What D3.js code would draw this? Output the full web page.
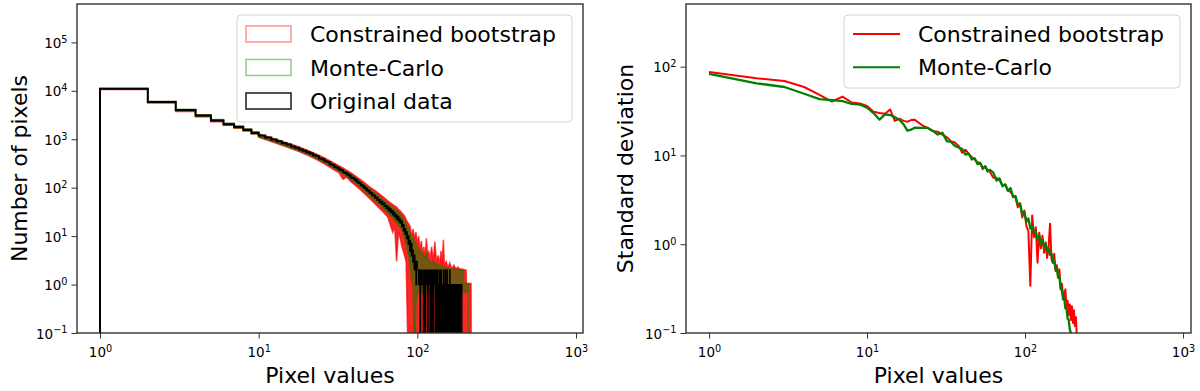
<!DOCTYPE html>
<html>
<head>
<meta charset="utf-8">
<script src="https://cdn.jsdelivr.net/npm/d3@7"></script>
<style>
  body { margin: 0; background: #fff; }
  text { font-family: "DejaVu Sans", sans-serif; fill: #000; }
</style>
</head>
<body>
<div id="container"></div>
<script>
var width = 1200, height = 391;

// ---- left panel: histogram of pixel values, unit bins starting at 1 ----
var histNames = ["Constrained bootstrap", "Monte-Carlo", "Original data"];
var binFirstEdge = 1, binLastEdge = 800, tailStart = 96;
// counts for the bins [1,2), [2,3), ... [200,201); everything after is 0
var origCounts = [
  11000,5900,4000,3100,2450,2050,1780,1560,1350,1200,
  1090,985,905,825,775,712,668,618,580,536,
  508,466,446,402,388,352,338,306,294,268,
  258,238,230,208,202,188,178,163,158,147,
  141,128,125,114,109,101,96,89,86,79,
  77,70,69,62,63,56,56,50,51,46,
  47,42,42,38,39,34,36,31,33,28,
  30,26,27,23,25,21,22,19,20,16,
  17,13,14,11,12,9,10,7,8,5,
  7,4,5,3,4,2,3,1,3,2,
  2,1,2,0,2,1,2,2,0,1,
  2,0,1,2,1,0,2,1,2,0,
  1,2,0,1,2,0,1,2,1,0,
  2,1,0,2,1,0,1,2,0,1,
  2,0,1,1,0,2,1,0,1,2,
  0,1,0,2,1,0,1,0,1,2,
  0,1,0,1,1,0,1,0,1,0,
  1,0,1,0,0,1,0,1,0,1,
  0,0,1,0,1,0,0,1,0,1,
  0,0,0,0,0,0,0,0,0,0
];

// spread of the realisations over the first bins (edges 1..10)
var stepEdges   = [1,2,3,4,5,6,7,8,9,10];
var stepRedLo   = [10700,5600,3750,2900,2300,1950,1680,1480,1280];
var stepRedHi   = [11200,6000,4050,3150,2500,2120,1850,1630,1420];
var stepGreenLo = [10800,5750,3850,2950,2350,1970,1700,1490,1290];
var stepGreenHi = [11200,6050,4150,3200,2550,2150,1870,1650,1430];

// spread of the realisations from 10 on (min / max of all runs)
var bandV = [10,12,14,16,18,20,23,26,30,32,34,36,38,42,46,50,55,60,65,70,72,74,76,78,80,83,85,
  88,90,92,94,96,98,100,102,104,106,108,110,112,114,116,118,120,123,126,129,132,135,138,141,143,
  146,148,152,156,160,165,170,175,180,185,190,195,196,200,203,204,210,211,218,219];
var bandRedLo = [1100,900,750,640,555,480,385,310,232,205,150,165,135,102,78,60,44,33,25,12,16,3,12,9,6,4,3,
  0,0,0,0,0,0,0,0,0,0,0,0,0,0,0,0,0,0,0,0,0,0,0,0,0,
  0,0,0,0,0,0,0,0,0,0,0,0,0,0,0,0,0,0,0,0];
var bandRedHi = [1290,1070,910,790,690,605,500,410,320,285,255,228,205,162,130,104,84,67,54,45,42,40,36,33,30,26,22,
  18,16,10,14,9,12,7,10,5,8,4,6,3.5,9,4,5,3,6,3,7.7,3,4,2.6,5,2.5,
  8.4,2.5,3,2.2,2.8,2.1,2.5,2.1,2.3,2.1,2.1,2.05,2.05,2,2,1.05,1.05,1.05,1.05,0];
var bandGreenLo = [1130,930,780,670,580,505,410,330,250,222,192,172,150,115,89,69,52,40,30,24,21,19,17,15,13,9,7,
  4,2.5,1.2,1,0,0.4,0.7,0.7,0.7,0.7,0.7,0.7,0.7,0.7,0.7,0.7,0.7,0.7,0.7,0.7,0.7,0.7,0.7,0.7,0.7,
  0.7,0.7,0.7,0.7,0.7,0.7,0.7,0.7,0.7,0.7,0.7,0.7,0.7,0.7,0.7,0.7,0.7,0,0,0];
var bandGreenHi = [1270,1050,880,760,665,580,475,385,300,268,236,212,188,148,117,93,74,58,47,39,36,34,32,28,25,21,17,
  14,12,10,9,8,7,6,5.5,5,4.6,4.2,3.8,3.5,4.8,3.5,3.2,3,3,3,2.8,2.6,2.5,2.5,2.4,2.4,
  2.3,2.3,2.2,2.2,2.1,2.1,2.1,2.05,2.05,2,2,2,1.05,1.05,1.05,1.05,1.05,0,0,0];

// ---- right panel: standard deviation per pixel value ----
var stdNames = ["Constrained bootstrap", "Monte-Carlo"];
var stdV = [1,2,3,4,5,6,7,8,9,10,11,12,13,14,15,16,17,18,19,20,
  22,24,26,28,30,32,34,36,38,40,42,44,46,48,50,52,54,56,58,60,
  63,66,69,72,75,78,81,84,87,90,93,96,99,102,105,108,111,114,117,120,
  123,126,129,132,135,138,141,144,147,150,153,156,159,162,165,168,171,174,177,180,
  183,186,189,192,195,198,201,204,207,210,213];
var stdRed = [87,74,69,59,48,40.5,46,39.5,38.5,36,31,30,29.5,33,24.5,26,24.5,24,25,25.3,
  22.3,20.5,18.8,18.5,17.2,16,14.5,14,12.8,10.7,11.6,10.4,9.6,9,8.4,8.3,7,7.6,6.8,6.5,
  5.6,5.6,5.3,4.6,4.7,4,3.9,3.5,3.35,2.6,2.9,2,2.4,1.6,1.4,0.34,2.1,1.2,1.55,0.62,
  1.35,0.9,1.25,0.8,1.05,0.7,0.95,1.7,0.68,0.62,0.78,0.5,0.58,0.42,0.52,0.31,0.36,0.27,0.26,0.31,
  0.2,0.23,0.16,0.21,0.14,0.2,0.13,0.18,0.12,0.15,0.08];
var stdGreen = [83,65,59,49.5,43,42,41,38,37.5,34.5,30,25.3,29,28.5,27,25.3,22.5,19,19.5,20.5,
  20.4,20.6,19,17.2,18,14.5,14.2,12.8,12.3,11.9,10.2,10.5,9,9.3,8,8.2,7.2,7.5,6.6,6.9,
  6.4,5.2,5.5,4.5,4.7,4,4.3,3.4,3.5,2.8,2.85,2.2,2.3,1.8,1.95,1.5,1.6,1.35,1.4,1.12,
  1.24,1.02,1.1,0.94,1,0.85,0.9,0.76,0.78,0.62,0.64,0.52,0.54,0.42,0.43,0.32,0.31,0.24,0.25,0.19,
  0.19,0.145,0.14,0.11,0.1,0.08,null,null,null,null,null];

var xTickValues = [1,10,100,1000];
var yTickLeft = [0.1,1,10,100,1000,10000,100000];
var yTickRight = [0.1,1,10,100];

var svg = d3.select("#container").append("svg")
  .attr("width", width).attr("height", height);

// minor ticks 2..9 x 10^k inside a domain
function minors(dom){
  var r = [];
  for (var e = -2; e <= 6; e++){
    for (var k = 2; k <= 9; k++){
      var v = k * Math.pow(10, e);
      if (v > dom[0] && v < dom[1]) r.push(v);
    }
  }
  return r;
}

function sup(sel){
  sel.each(function(d){
    var t = d3.select(this), e = Math.round(Math.log10(d));
    t.text(null);
    t.append("tspan").text("10");
    t.append("tspan").attr("dy", "-0.55em").attr("font-size", "0.72em")
      .text(e < 0 ? "\u2212" + (-e) : e);
  });
}

// axes box with log ticks and the two axis titles
function frame(g, x, y, yTicks, left, top, w, h, xLabel, yLabel, yLabelX){
  var xa = g.append("g").attr("transform", "translate(0," + (top + h) + ")");
  xa.call(d3.axisBottom(x).tickValues(minors(x.domain())).tickSize(3).tickFormat(""));
  xa.call(d3.axisBottom(x).tickValues(xTickValues).tickSize(5.5).tickPadding(4));
  var ya = g.append("g").attr("transform", "translate(" + left + ",0)");
  ya.call(d3.axisLeft(y).tickValues(minors(y.domain())).tickSize(3).tickFormat(""));
  ya.call(d3.axisLeft(y).tickValues(yTicks).tickSize(5.5).tickPadding(4));
  g.selectAll(".domain").remove();
  g.selectAll(".tick line").attr("stroke", "#333").attr("stroke-width", 1);
  g.selectAll(".tick text").attr("font-size", 13.5).attr("fill", "#000")
    .attr("font-family", "DejaVu Sans");
  xa.selectAll(".tick text").filter(function(d){ return xTickValues.indexOf(d) >= 0; })
    .attr("dy", "1.1em").call(sup);
  ya.selectAll(".tick text").filter(function(d){ return yTicks.indexOf(d) >= 0; })
    .attr("dy", "0.38em").call(sup);

  g.append("rect").attr("x", left).attr("y", top).attr("width", w).attr("height", h)
    .attr("fill", "none").attr("stroke", "#333").attr("stroke-width", 1.4);

  g.append("text").attr("x", left + w / 2).attr("y", 383)
    .attr("text-anchor", "middle").attr("font-size", 22).text(xLabel);
  g.append("text").attr("transform", "translate(" + yLabelX + "," + (top + h / 2) + ") rotate(-90)")
    .attr("text-anchor", "middle").attr("font-size", 22).text(yLabel);
}

//---------------- left panel ----------------
(function(){
  var left = 77, top = 4, w = 506, h = 329;
  var x = d3.scaleLog().domain([0.716, 1107]).range([left, left + w]);
  var y = d3.scaleLog().domain([0.1, 6.2e5]).range([top + h, top]);
  var g = svg.append("g");

  g.append("clipPath").attr("id", "clipL").append("rect")
    .attr("x", left).attr("y", top).attr("width", w).attr("height", h);
  var plot = g.append("g").attr("clip-path", "url(#clipL)");

  function bandPoints(sLo, sHi, lo, hi){
    var pts = [];
    for (var i = 0; i < stepEdges.length - 1; i++){
      pts.push({v: stepEdges[i], lo: sLo[i], hi: sHi[i]});
      pts.push({v: stepEdges[i + 1], lo: sLo[i], hi: sHi[i]});
    }
    bandV.forEach(function(v, i){ pts.push({v: v, lo: lo[i], hi: hi[i]}); });
    return pts;
  }
  var area = d3.area()
    .x(function(d){ return x(d.v); })
    .y0(function(d){ return y(Math.max(d.lo, 0.01)); })
    .y1(function(d){ return y(Math.max(d.hi, 0.01)); });

  plot.append("path").datum(bandPoints(stepRedLo, stepRedHi, bandRedLo, bandRedHi))
    .attr("d", area).attr("fill", "#ff0000").attr("fill-opacity", 0.85)
    .attr("stroke", "#ff0000").attr("stroke-opacity", 0.7).attr("stroke-width", 1.5);
  plot.append("path").datum(bandPoints(stepGreenLo, stepGreenHi, bandGreenLo, bandGreenHi))
    .attr("d", area).attr("fill", "#008000").attr("fill-opacity", 0.55)
    .attr("stroke", "#008000").attr("stroke-opacity", 0.5).attr("stroke-width", 1.5);

  // original data as a step histogram; the sparse tail is drawn thinner
  var hist = [{v: binFirstEdge, c: 0}];
  origCounts.forEach(function(c, i){ hist.push({v: binFirstEdge + i, c: c}); });
  hist.push({v: binFirstEdge + origCounts.length, c: 0});
  hist.push({v: binLastEdge, c: 0});
  var stepLine = d3.line().curve(d3.curveStepAfter)
    .x(function(d){ return x(d.v); })
    .y(function(d){ return y(Math.max(d.c, 0.01)); });
  var head = hist.filter(function(d){ return d.v <= tailStart; }),
    tail = hist.filter(function(d){ return d.v >= tailStart; });
  plot.append("path").datum(tail).attr("d", stepLine)
    .attr("fill", "none").attr("stroke", "#000").attr("stroke-width", 1.2);
  plot.append("path").datum(head).attr("d", stepLine)
    .attr("fill", "none").attr("stroke", "#000").attr("stroke-width", 2);

  frame(g, x, y, yTickLeft, left, top, w, h, "Pixel values", "Number of pixels", 27);

  // legend
  var lg = g.append("g");
  lg.append("rect").attr("x", 237).attr("y", 15).attr("width", 335).attr("height", 107)
    .attr("rx", 4).attr("fill", "#fff").attr("fill-opacity", 0.8)
    .attr("stroke", "#d4d4d4").attr("stroke-width", 1);
  var cols = [["#ff0000", 0.4], ["#008000", 0.4], ["#000", 0.85]];
  histNames.forEach(function(n, i){
    var cy = 34 + i * 33.5;
    lg.append("rect").attr("x", 246).attr("y", cy - 8).attr("width", 45).attr("height", 16)
      .attr("fill", "none").attr("stroke", cols[i][0]).attr("stroke-opacity", cols[i][1])
      .attr("stroke-width", 1.6);
    lg.append("text").attr("x", 310).attr("y", cy + 8).attr("font-size", 22).text(n);
  });
})();

//---------------- right panel ----------------
(function(){
  var left = 686, top = 4, w = 505, h = 329;
  var x = d3.scaleLog().domain([0.715, 1123]).range([left, left + w]);
  var y = d3.scaleLog().domain([0.1, 508]).range([top + h, top]);
  var g = svg.append("g");

  g.append("clipPath").attr("id", "clipR").append("rect")
    .attr("x", left).attr("y", top).attr("width", w).attr("height", h);
  var plot = g.append("g").attr("clip-path", "url(#clipR)");

  var line = d3.line()
    .defined(function(d){ return d[1] != null; })
    .x(function(d){ return x(d[0]); })
    .y(function(d){ return y(Math.max(d[1], 0.01)); });

  [[stdRed, "#ff0000", 2], [stdGreen, "#008000", 2.3]].forEach(function(s){
    plot.append("path").datum(stdV.map(function(v, i){ return [v, s[0][i]]; }))
      .attr("d", line).attr("fill", "none").attr("stroke", s[1])
      .attr("stroke-width", s[2]).attr("stroke-linejoin", "round");
  });

  frame(g, x, y, yTickRight, left, top, w, h, "Pixel values", "Standard deviation", 633);

  var lg = g.append("g");
  lg.append("rect").attr("x", 844).attr("y", 15).attr("width", 336).attr("height", 73)
    .attr("rx", 4).attr("fill", "#fff").attr("fill-opacity", 0.8)
    .attr("stroke", "#d4d4d4").attr("stroke-width", 1);
  var cols = ["#ff0000", "#008000"];
  stdNames.forEach(function(n, i){
    var cy = 34 + i * 33.3;
    lg.append("line").attr("x1", 853).attr("x2", 900).attr("y1", cy).attr("y2", cy)
      .attr("stroke", cols[i]).attr("stroke-width", 2);
    lg.append("text").attr("x", 918).attr("y", cy + 8).attr("font-size", 22).text(n);
  });
})();
</script>
</body>
</html>
